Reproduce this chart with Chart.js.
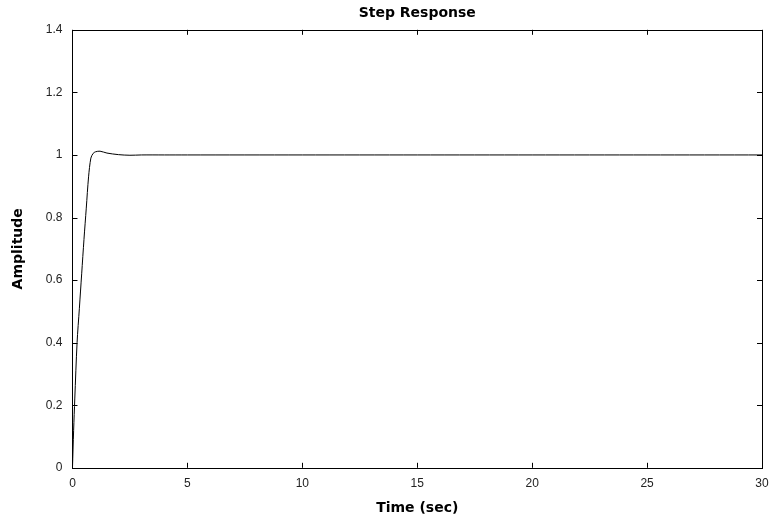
<!DOCTYPE html>
<html>
<head>
<meta charset="utf-8">
<script src="https://cdn.jsdelivr.net/npm/chart.js@4/dist/chart.umd.min.js"></script>
<style>
	html, body { margin: 0; padding: 0; background: #fff; }
	#wrap { width: 769px; height: 519px; }
</style>
</head>
<body>
<div id="wrap"><canvas id="step-chart"></canvas></div>
<script>
// step response samples
const time_list = [0, 0.05, 0.1, 0.2, 0.3, 0.4, 0.5, 0.6, 0.7, 0.8, 0.9, 1.0, 1.2, 1.5, 2, 2.5, 3, 4, 5, 10, 15, 20, 25, 30];
const amplitude_list = [0, 0.12, 0.22, 0.4, 0.51, 0.62, 0.73, 0.83, 0.93, 0.99, 1.005, 1.01, 1.012, 1.006, 1.001, 0.999, 1.0, 1.0, 1.0, 1.0, 1.0, 1.0, 1.0, 1.0];
const x_ticks = [0, 5, 10, 15, 20, 25, 30];
const y_ticks = [0, 0.2, 0.4, 0.6, 0.8, 1, 1.2, 1.4];

const ctx = document.getElementById('step-chart').getContext('2d');
const tick_font = 'Arial, "Liberation Sans", sans-serif';
const label_font = '"DejaVu Sans", Verdana, sans-serif';

//box around the plot and little ticks pointing inwards, matlab style
const boxPlugin = {
	id: 'box',
	afterDraw(chart) {
		const { ctx, chartArea: a, scales } = chart;
		ctx.save();
		ctx.strokeStyle = '#000';
		ctx.lineWidth = 1;
		ctx.strokeRect(Math.round(a.left) + 0.5, Math.round(a.top) + 0.5, Math.round(a.right - a.left), Math.round(a.bottom - a.top));
		ctx.beginPath();
		x_ticks.forEach((t) => {
			let px = Math.round(scales.x.getPixelForValue(t)) + 0.5;
			ctx.moveTo(px, a.bottom); ctx.lineTo(px, a.bottom - 5);
			ctx.moveTo(px, a.top); ctx.lineTo(px, a.top + 5);
		});
		y_ticks.forEach((t) => {
			let py = Math.round(scales.y.getPixelForValue(t)) + 0.5;
			ctx.moveTo(a.left, py); ctx.lineTo(a.left + 5, py);
			ctx.moveTo(a.right, py); ctx.lineTo(a.right - 5, py);
		});
		ctx.stroke();
		ctx.restore();
	}
};

let stepChart = new Chart(ctx, {
	type: 'line',
	data: {
		datasets: [{
			label: 'Step',
			data: time_list.map((t, i) => ({ x: t, y: amplitude_list[i] })),
			borderColor: '#000',
			borderWidth: 1,
			pointRadius: 0,
			fill: false,
			tension: 0.3
		}]
	},
	options: {
		responsive: true,
		maintainAspectRatio: false,
		animation: false,
		layout: { padding: { left: 10, right: 7, top: 0, bottom: 2 } },
		plugins: {
			legend: { display: false },
			tooltip: { enabled: false },
			title: {
				display: true,
				fullSize: false,
				text: 'Step Response',
				color: '#000',
				font: { family: label_font, size: 14, weight: 'bold' },
				padding: { top: 5, bottom: 8 }
			}
		},
		scales: {
			x: {
				type: 'linear',
				min: 0,
				max: 30,
				afterBuildTicks: (axis) => { axis.ticks = x_ticks.map(v => ({ value: v })); },
				afterFit: (axis) => { axis.paddingRight = 0; },
				grid: { display: false, drawTicks: false },
				border: { display: false },
				ticks: { color: '#222', padding: 9, font: { family: tick_font, size: 12 }, callback: (v) => String(v) },
				title: {
					display: true,
					text: 'Time (sec)',
					color: '#000',
					font: { family: label_font, size: 14, weight: 'bold' },
					padding: { top: 0, bottom: 0 }
				}
			},
			y: {
				min: 0,
				max: 1.4,
				afterBuildTicks: (axis) => { axis.ticks = y_ticks.map(v => ({ value: v })); },
				grid: { display: false, drawTicks: false },
				border: { display: false },
				ticks: { color: '#222', padding: 10, font: { family: tick_font, size: 12 }, callback: (v) => String(v) },
				title: {
					display: true,
					text: 'Amplitude',
					color: '#000',
					font: { family: label_font, size: 14, weight: 'bold' },
					padding: { top: 0, bottom: 9 }
				}
			}
		}
	},
	plugins: [boxPlugin]
});
</script>
</body>
</html>
